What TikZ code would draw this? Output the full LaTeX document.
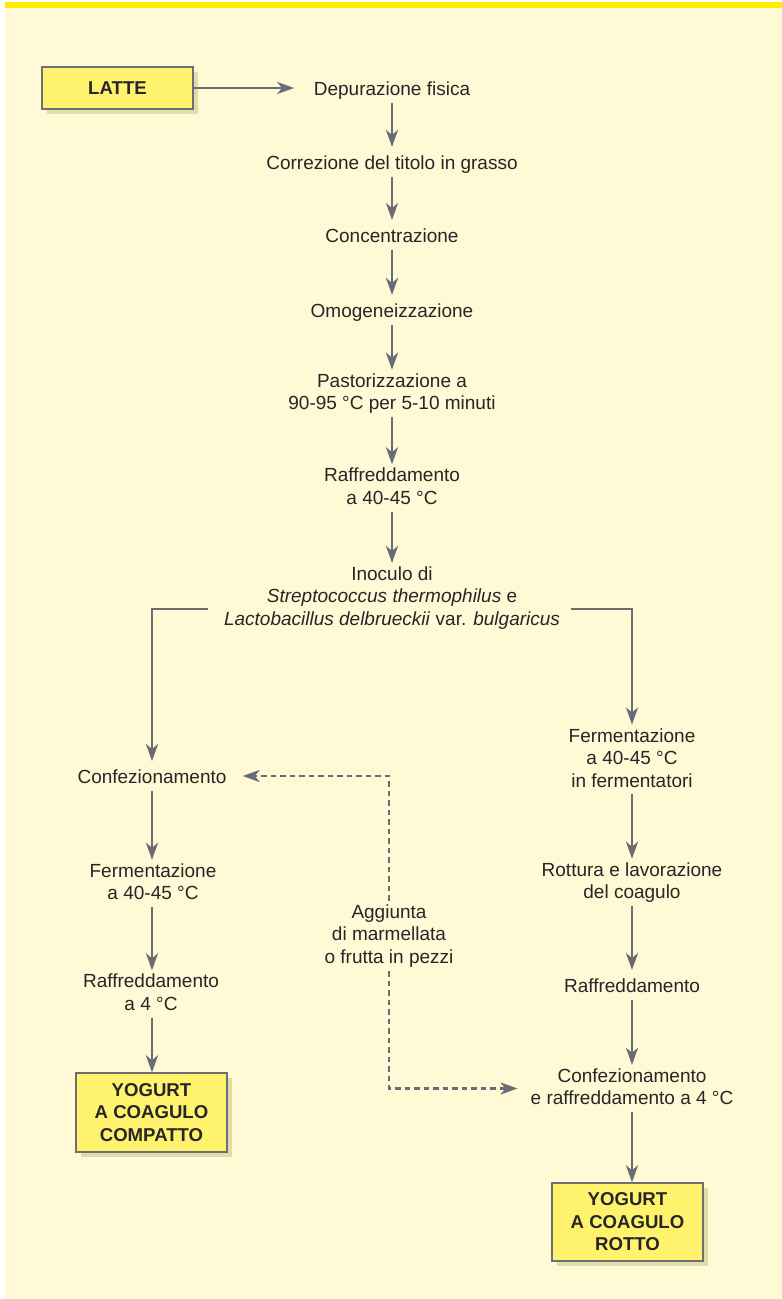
\documentclass[tikz,border=0pt]{standalone}
\usepackage{fontspec}
\setmainfont{Liberation Sans}
\usetikzlibrary{arrows.meta,shadows}

\definecolor{panel}{RGB}{255,249,214}
\definecolor{topbar}{RGB}{255,236,0}
\definecolor{boxfill}{RGB}{255,243,110}
\definecolor{boxline}{RGB}{110,111,116}
\definecolor{boxshadow}{RGB}{226,220,168}
\definecolor{flowc}{RGB}{105,108,116}
\definecolor{txt}{RGB}{38,38,38}

% line strut: 18.75pt above and 3.75pt below the baseline
\newcommand\stagestrut{\rule[-3.75pt]{0pt}{22.5pt}}

\begin{document}
\begin{tikzpicture}[x=1pt,y=-1pt,
  every node/.style={text=txt},
  stage/.style={align=center, inner sep=3.5pt,
    font=\fontsize{19}{22.5}\selectfont,
    execute at begin node=\stagestrut, execute at end node=\stagestrut},
  product/.style={draw=boxline, line width=1.3pt, fill=boxfill,
    align=center, minimum width=151pt, inner sep=2pt,
    font=\fontsize{18.6}{22.5}\selectfont\bfseries,
    drop shadow={shadow xshift=5pt, shadow yshift=-5pt, fill=boxshadow, opacity=1}},
  flow/.style={draw=flowc, line width=2.8pt,
    -{Stealth[length=17pt,width=12pt,inset=5pt]}},
  addition/.style={flow, dash pattern=on 5.5pt off 4pt}
]
% page and panel
\useasboundingbox (0,0) rectangle (782,1299);
\fill[white] (0,0) rectangle (782,1299);
\fill[panel] (5,7) rectangle (782,1299);
\fill[topbar] (5,2) rectangle (782,7.5);

% main line
\node[product, minimum height=42pt] (latte) at (117.5,88) {LATTE};
\node[stage] (dep)  at (392,88)    {Depurazione fisica};
\node[stage] (cor)  at (392,162)   {Correzione del titolo in grasso};
\node[stage] (conc) at (392,235)   {Concentrazione};
\node[stage] (omo)  at (392,310)   {Omogeneizzazione};
\node[stage] (past) at (392,393.5) {Pastorizzazione a\\90-95 °C per 5-10 minuti};
\node[stage] (raf)  at (392,488)   {Raffreddamento\\a 40-45 °C};
\node[stage] (inoc) at (392,598)   {Inoculo di\\\textit{Streptococcus thermophilus} e\\\textit{Lactobacillus delbrueckii} var. \textit{bulgaricus}};

% set yogurt branch
\node[stage] (confL) at (152,776)   {Confezionamento};
\node[stage] (fermL) at (153,883.5) {Fermentazione\\a 40-45 °C};
\node[stage] (rafL)  at (151,994)   {Raffreddamento\\a 4 °C};
\node[product, minimum height=79pt] (compatto) at (151.5,1112.5) {YOGURT\\A COAGULO\\COMPATTO};

% stirred yogurt branch
\node[stage] (fermR) at (632,759.5)  {Fermentazione\\a 40-45 °C\\in fermentatori};
\node[stage] (rott)  at (632,882.5)  {Rottura e lavorazione\\del coagulo};
\node[stage] (rafR)  at (632,985)    {Raffreddamento};
\node[stage] (confR) at (632,1088.5) {Confezionamento\\e raffreddamento a 4 °C};
\node[product, minimum height=78pt] (rotto) at (627.5,1222) {YOGURT\\A COAGULO\\ROTTO};

% optional fruit addition
\node[stage] (agg) at (389,936) {Aggiunta\\di marmellata\\o frutta in pezzi};

% connectors
\draw[flow, shorten >=16pt] (latte.east) -- (dep.west);
\draw[flow] (dep.south)  -- (cor.north);
\draw[flow] (cor.south)  -- (conc.north);
\draw[flow] (conc.south) -- (omo.north);
\draw[flow] (omo.south)  -- (past.north);
\draw[flow] (past.south) -- (raf.north);
\draw[flow] (raf.south)  -- (inoc.north);
\draw[flow] ([shift={(-12,11)}]inoc.west) -| (confL.south |- confL.north);
\draw[flow] ([shift={(7,11)}]inoc.east) -| (fermR.north);

\draw[flow] (confL.south) -- (confL.south |- fermL.north);
\draw[flow] (confL.south |- fermL.south) -- (confL.south |- rafL.north);
\draw[flow] (confL.south |- rafL.south)  -- (confL.south |- compatto.north);

\draw[flow] (fermR.south) -- (rott.north);
\draw[flow] (rott.south)  -- (rafR.north);
\draw[flow] (rafR.south)  -- (confR.north);
\draw[flow] (confR.south) -- (confR.south |- rotto.north);

\draw[addition, shorten >=12.5pt] (agg.north) |- (confL.east);
\draw[addition, shorten >=9.5pt]  (agg.south) |- (confR.west);
\end{tikzpicture}
\end{document}
